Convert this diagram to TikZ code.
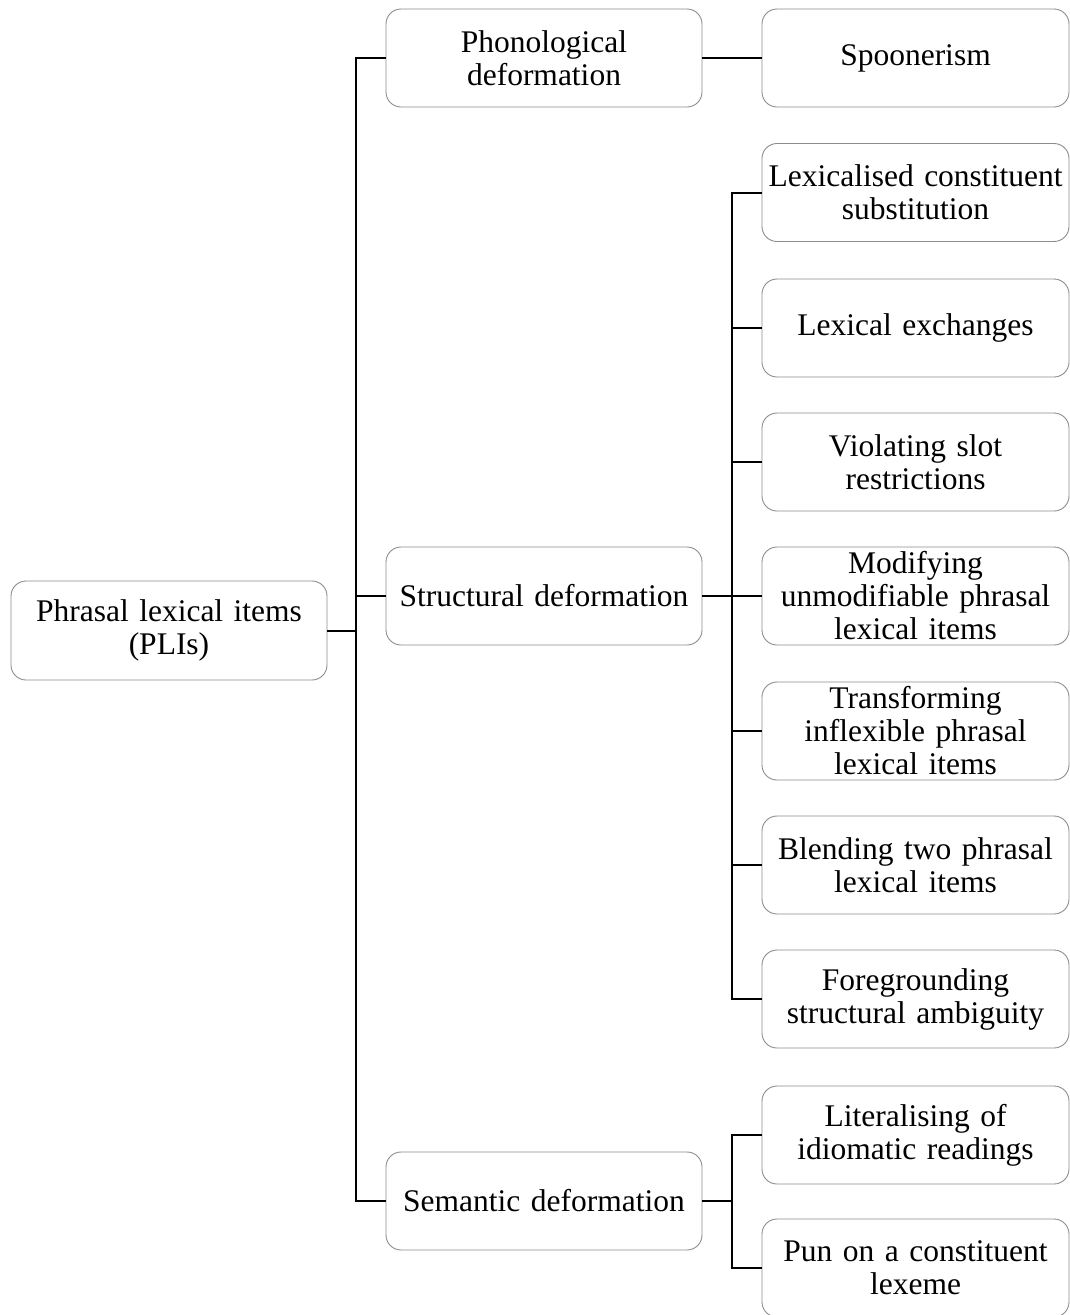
\documentclass[tikz,border=0pt]{standalone}
\usepackage{fontspec}
\setmainfont{Liberation Serif}
\begin{document}
\begin{tikzpicture}[x=1pt,y=-1pt,
  box/.style={draw=black!45, line width=0.9pt, rounded corners=15pt, align=center, inner sep=0pt,
    font=\fontsize{31.5}{33}\selectfont},
  lone/.style={box, minimum width=316pt, minimum height=98pt, text width=312pt},
  ltwo/.style={box, minimum width=307pt, minimum height=98pt, text width=307pt},
  conn/.style={line width=2pt, black}]
\useasboundingbox (0,0) rectangle (1070,1315);
\node[lone, minimum height=99pt] (root) at (169,630.5) {Phrasal lexical items\\(PLIs)};
\node[lone] (phon) at (544,58) {Phonological\\deformation};
\node[lone] (struct) at (544,596) {Structural deformation};
\node[lone] (sem) at (544,1201) {Semantic deformation};
\node[ltwo] (spoon) at (915.5,58) {Spoonerism};
\node[ltwo] (lexsub) at (915.5,192.5) {Lexicalised constituent\\substitution};
\node[ltwo] (lexex) at (915.5,328) {Lexical exchanges};
\node[ltwo] (viol) at (915.5,462) {Violating slot\\restrictions};
\node[ltwo] (mod) at (915.5,596) {Modifying\\unmodifiable phrasal\\lexical items};
\node[ltwo] (trans) at (915.5,731) {Transforming\\inflexible phrasal\\lexical items};
\node[ltwo] (blend) at (915.5,865) {Blending two phrasal\\lexical items};
\node[ltwo] (fore) at (915.5,999) {Foregrounding\\structural ambiguity};
\node[ltwo] (lit) at (915.5,1135) {Literalising of\\idiomatic readings};
\node[ltwo] (pun) at (915.5,1268) {Pun on a constituent\\lexeme};
\coordinate (j0) at (356,0);
\coordinate (j1) at (731.5,0);
% root trunk
\draw[conn] (root.east) -- (root.east -| j0);
\draw[conn] (phon.west) -- (phon.west -| j0) -- (j0 |- sem.west) -- (sem.west);
\draw[conn] (struct.west) -- (struct.west -| j0);
% phonological
\draw[conn] (phon.east) -- (spoon.west);
% structural
\draw[conn] (struct.east) -- (mod.west);
\draw[conn] (lexsub.west) -- (lexsub.west -| j1) -- (j1 |- fore.west) -- (fore.west);
\foreach \n in {lexex,viol,trans,blend}{\draw[conn] (\n.west) -- (\n.west -| j1);}
% semantic
\draw[conn] (sem.east) -- (sem.east -| j1);
\draw[conn] (lit.west) -- (lit.west -| j1) -- (j1 |- pun.west) -- (pun.west);
\end{tikzpicture}
\end{document}
